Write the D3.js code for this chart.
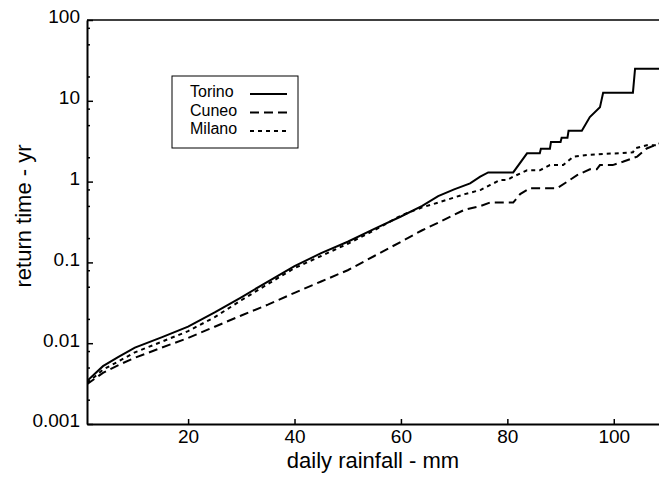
<!DOCTYPE html>
<html>
<head>
<meta charset="utf-8">
<script src="https://cdn.jsdelivr.net/npm/d3@7"></script>
<style>
body { margin: 0; background: #fff; }
svg text { font-family: "Liberation Sans", Arial, Helvetica, sans-serif; fill: #000; }
</style>
</head>
<body>
<div id="chart"></div>
<script>

// daily rainfall (mm) vs return time (yr)
const torino = [[1, 0.0034], [4, 0.0052], [7, 0.0068], [10, 0.0088], [15, 0.0118], [20, 0.016],
    [25, 0.024], [30, 0.037], [35, 0.058], [40, 0.09], [45, 0.13], [50, 0.18], [55, 0.26],
    [60, 0.37], [64, 0.5], [67, 0.66], [70, 0.8], [73, 0.95], [74.9, 1.15], [76.4, 1.3],
    [81.1, 1.3], [83.7, 2.24], [86.1, 2.24], [86.3, 2.55], [88, 2.55], [88.2, 3.1], [90, 3.1],
    [90.2, 3.5], [91.3, 3.5], [91.5, 4.26], [94, 4.26], [95.5, 6.3], [97.4, 8.3], [98, 12.6],
    [103.6, 12.6], [104, 25], [108.5, 25]];

const cuneo = [[1, 0.0031], [4, 0.0043], [7, 0.0054], [10, 0.0066], [15, 0.0088], [20, 0.0116],
    [25, 0.016], [30, 0.022], [35, 0.03], [40, 0.042], [45, 0.058], [50, 0.08], [55, 0.12],
    [60, 0.18], [64, 0.25], [67, 0.31], [72, 0.45], [75, 0.5], [76.7, 0.55], [81.1, 0.55], [82.4, 0.7],
    [84.3, 0.83], [89.4, 0.83], [93.1, 1.2], [95.5, 1.42], [96.8, 1.42], [97.4, 1.6], [99.8, 1.6],
    [101.7, 1.76], [104.4, 2.04], [106.2, 2.57], [108.5, 2.96]];

const milano = [[1, 0.0032], [4, 0.0047], [7, 0.006], [10, 0.0077], [15, 0.0104], [20, 0.0141],
    [25, 0.021], [30, 0.034], [35, 0.054], [40, 0.085], [45, 0.12], [50, 0.17], [55, 0.25],
    [60, 0.38], [64, 0.48], [67, 0.55], [72, 0.7], [75, 0.79], [76.8, 0.91], [78.7, 1.05], [80, 1.05],
    [81.1, 1.15], [83.7, 1.38], [86.1, 1.38], [88, 1.6], [90.5, 1.6], [92.4, 2.04], [95, 2.14],
    [103.6, 2.3], [104, 2.58], [106.2, 2.82], [108.5, 2.82]];

const stations = ["Torino", "Cuneo", "Milano"];
const dashes = [null, "9,5", "4,4"];

const xTicks = [20, 40, 60, 80, 100];
const yTicks = [0.001, 0.01, 0.1, 1, 10, 100];
const yTickLabels = ["0.001", "0.01", "0.1", "1", "10", "100"];
const yMinor = yTicks.slice(0, -1).flatMap(d => [2, 5, 8].map(m => d * m));

const width = 659, height = 479;

let svg = d3.select("#chart")
    .append("svg")
    .attr("width", width)
    .attr("height", height);

const x = d3.scaleLinear().domain([1, 108.5]).range([87, 659]);
const y = d3.scaleLog().domain([0.001, 100]).range([424, 20]);

svg.append("clipPath").attr("id", "plot")
    .append("rect")
    .attr("x", x.range()[0])
    .attr("y", y.range()[1])
    .attr("width", x.range()[1] - x.range()[0])
    .attr("height", y.range()[0] - y.range()[1]);

const line = d3.line()
    .x(d => x(d[0]))
    .y(d => y(d[1]));

[torino, cuneo, milano].forEach((series, i) => {
    svg.append("path")
        .datum(series)
        .attr("clip-path", "url(#plot)")
        .attr("fill", "none")
        .attr("stroke", "#000")
        .attr("stroke-width", 2)
        .attr("stroke-dasharray", dashes[i])
        .attr("d", line);
});

// y axis, majors + minors
let yAxis = svg.append("g")
    .attr("transform", `translate(${x.range()[0]},0)`)
    .call(d3.axisLeft(y).tickValues(yTicks).tickFormat((d, i) => yTickLabels[i])
        .tickSizeInner(-6).tickSizeOuter(0).tickPadding(7));
yAxis.select(".domain").attr("stroke-width", 2);
yAxis.selectAll(".tick line").attr("stroke-width", 1.5);
yAxis.selectAll("text").attr("font-size", 19).attr("dy", "0.15em");

let yAxisMinor = svg.append("g")
    .attr("transform", `translate(${x.range()[0]},0)`)
    .call(d3.axisLeft(y).tickValues(yMinor).tickFormat("").tickSizeInner(-3).tickSizeOuter(0));
yAxisMinor.select(".domain").remove();
yAxisMinor.selectAll(".tick line").attr("stroke-width", 1.5);

let xAxis = svg.append("g")
    .attr("transform", `translate(0,${y.range()[0]})`)
    .call(d3.axisBottom(x).tickValues(xTicks).tickSizeInner(-5).tickSizeOuter(0).tickPadding(6));
xAxis.select(".domain").attr("stroke-width", 2);
xAxis.selectAll(".tick line").attr("stroke-width", 1.5);
xAxis.selectAll("text").attr("font-size", 19);

// top frame line
svg.append("line")
    .attr("x1", x.range()[0]).attr("x2", x.range()[1])
    .attr("y1", y(100)).attr("y2", y(100))
    .attr("stroke", "#000")
    .attr("stroke-width", 1.5);

svg.append("text")
    .attr("x", (x.range()[0] + x.range()[1]) / 2)
    .attr("y", 468)
    .attr("text-anchor", "middle")
    .attr("font-size", 22)
    .text("daily rainfall - mm");

svg.append("text")
    .attr("transform", "translate(31,216) rotate(-90)")
    .attr("text-anchor", "middle")
    .attr("font-size", 22)
    .text("return time - yr");

// legend
let legend = svg.append("g");
legend.append("rect")
    .attr("x", 172).attr("y", 76)
    .attr("width", 126).attr("height", 72)
    .attr("fill", "#fff")
    .attr("stroke", "#000")
    .attr("stroke-width", 1);

stations.forEach((name, i) => {
    legend.append("text")
        .attr("x", 190)
        .attr("y", 97 + i * 18.5)
        .attr("font-size", 16)
        .text(name);
    legend.append("line")
        .attr("x1", 250).attr("x2", 287)
        .attr("y1", 94 + i * 18.5).attr("y2", 94 + i * 18.5)
        .attr("stroke", "#000")
        .attr("stroke-width", 2)
        .attr("stroke-dasharray", dashes[i]);
});

</script>
</body>
</html>
